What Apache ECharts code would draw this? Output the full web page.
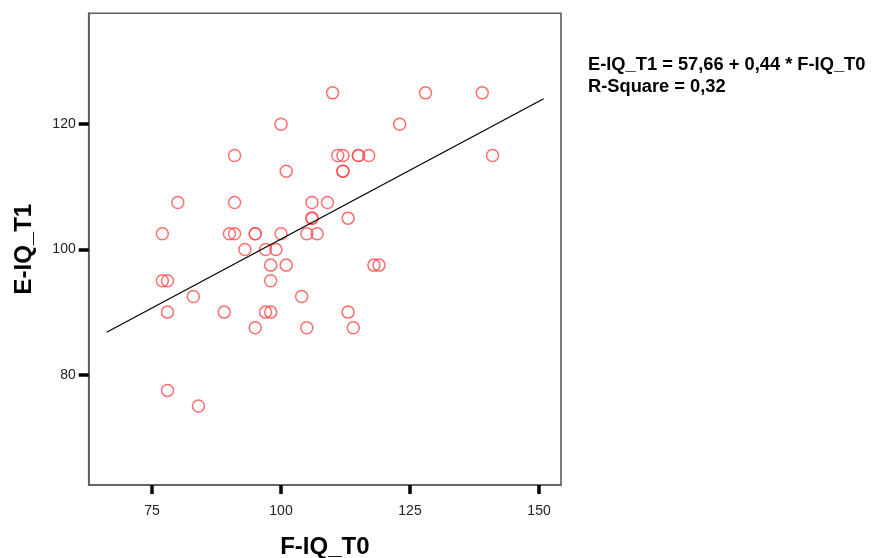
<!DOCTYPE html>
<html>
<head>
<meta charset="utf-8">
<script src="https://cdn.jsdelivr.net/npm/echarts@6/dist/echarts.min.js"></script>
<style>
html,body{margin:0;padding:0;background:#fff;}
#chart{width:873px;height:558px;}
</style>
</head>
<body>
<div id="chart"></div>
<script>
// F-IQ_T0 (x) and E-IQ_T1 (y) observations
var fiqT0 = [110,128,139,100,123,91,111,112,115,115,117,141,101,112,112,80,91,106,109,106,106,113,77,90,91,95,95,100,105,107,93,97,99,98,101,118,119,77,78,98,83,104,78,89,97,98,95,105,113,114,78,84];
var eiqT1 = [125,125,125,120,120,115,115,115,115,115,115,115,112.5,112.5,112.5,107.5,107.5,107.5,107.5,105,105,105,102.5,102.5,102.5,102.5,102.5,102.5,102.5,102.5,100,100,100,97.5,97.5,97.5,97.5,95,95,95,92.5,92.5,90,90,90,90,87.5,87.5,90,87.5,77.5,75];
// regression fit
var fitIntercept = 57.66;
var fitSlope = 0.44;
var fitRangeX = [66.2, 150.9];
var xTicks = [75, 100, 125, 150];
var yTicks = [80, 100, 120];
var eqLines = ['E-IQ_T1 = 57,66 + 0,44 * F-IQ_T0', 'R-Square = 0,32'];

var points = fiqT0.map(function (x, i) { return [x, eiqT1[i]]; });
var fitLine = fitRangeX.map(function (x) { return [x, fitIntercept + fitSlope * x]; });

var chart = echarts.init(document.getElementById('chart'), null, {renderer: 'canvas'});
var fontFam = '"Liberation Sans", Arial, sans-serif';
chart.setOption({
  animation: false,
  backgroundColor: '#ffffff',
  grid: {
    left: 88.7, right: 312, top: 13.3, bottom: 73,
    outerBoundsMode: 'none', containLabel: false,
    show: true, borderColor: '#5c5c5c', borderWidth: 1.6, backgroundColor: 'transparent'
  },
  xAxis: {
    type: 'value', min: 62.73, max: 154.26,
    name: 'F-IQ_T0', nameLocation: 'middle', nameGap: 50,
    nameTextStyle: {fontSize: 24, fontWeight: 'bold', color: '#000', fontFamily: fontFam},
    splitLine: {show: false},
    axisLine: {show: true, lineStyle: {color: '#5c5c5c', width: 1.6}},
    axisTick: {show: true, length: 9, customValues: xTicks, lineStyle: {color: '#000', width: 3.5}},
    axisLabel: {customValues: xTicks, margin: 19, fontSize: 14, color: '#222', fontFamily: fontFam}
  },
  yAxis: {
    type: 'value', min: 62.4, max: 137.7,
    name: 'E-IQ_T1', nameLocation: 'middle', nameGap: 52, nameRotate: 90,
    nameTextStyle: {fontSize: 24, fontWeight: 'bold', color: '#000', fontFamily: fontFam},
    splitLine: {show: false},
    axisLine: {show: true, lineStyle: {color: '#5c5c5c', width: 1.6}},
    axisTick: {show: true, length: 10, customValues: yTicks, lineStyle: {color: '#000', width: 3.5}},
    axisLabel: {customValues: yTicks, margin: 13, fontSize: 14, color: '#222', fontFamily: fontFam}
  },
  title: {
    left: 588, top: 54, padding: 0,
    text: eqLines.join('\n'),
    textStyle: {fontSize: 18.3, fontWeight: 'bold', color: '#000', fontFamily: fontFam, lineHeight: 22}
  },
  series: [
    {
      type: 'scatter', data: points, symbol: 'circle', symbolSize: 12,
      itemStyle: {color: 'rgba(0,0,0,0)', borderColor: '#ff4a4a', borderWidth: 1.5},
      silent: true
    },
    {
      type: 'line', data: fitLine, symbol: 'none',
      lineStyle: {color: '#000', width: 1.3}, silent: true
    }
  ]
});
</script>
</body>
</html>
